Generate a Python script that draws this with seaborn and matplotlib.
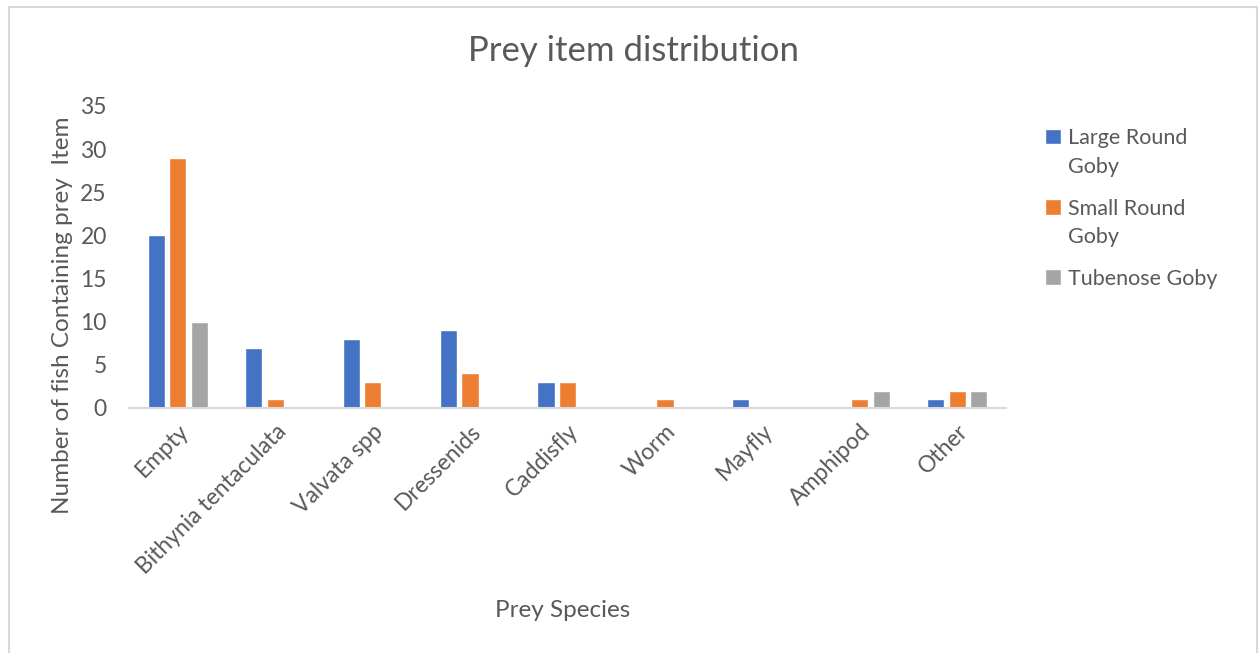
import textwrap
import matplotlib
matplotlib.use("Agg")
import matplotlib.pyplot as plt
from matplotlib.patches import Rectangle
import pandas as pd
import seaborn as sns

categories = ["Empty", "Bithynia tentaculata", "Valvata spp", "Dressenids",
              "Caddisfly", "Worm", "Mayfly", "Amphipod", "Other"]
large_round_goby = [20, 7, 8, 9, 3, 0, 1, 0, 1]
small_round_goby = [29, 1, 3, 4, 3, 1, 0, 1, 2]
tubenose_goby = [10, 0, 0, 0, 0, 0, 0, 2, 2]
series_names = ["Large Round Goby", "Small Round Goby", "Tubenose Goby"]
y_ticks = [0, 5, 10, 15, 20, 25, 30, 35]

colors = ["#4472C4", "#ED7D31", "#A5A5A5"]
text_color = "#595959"

df = pd.DataFrame({
    "Prey": categories * 3,
    "Fish": [n for n in series_names for _ in categories],
    "Count": large_round_goby + small_round_goby + tubenose_goby,
})

sns.set_theme(style="white")
plt.rcParams["font.family"] = ["Lato", "DejaVu Sans"]

fig = plt.figure(figsize=(12.59, 6.53), dpi=100)
ax = fig.add_axes([0.1025, 0.3752, 0.6965, 0.4625])

sns.barplot(data=df, x="Prey", y="Count", hue="Fish", order=categories,
            hue_order=series_names, palette=colors, width=0.66, gap=0.2,
            saturation=1, errorbar=None, ax=ax, legend=True)

ax.set_ylim(0, 35)
ax.set_yticks(y_ticks)
ax.set_xlim(-0.5, len(categories) - 0.5)
ax.tick_params(axis="both", length=0, colors=text_color, labelsize=16.5)
ax.tick_params(axis="y", pad=16)
plt.setp(ax.get_xticklabels(), rotation=45, ha="right", rotation_mode="anchor")
ax.tick_params(axis="x", pad=9)

for side in ["top", "right", "left"]:
    ax.spines[side].set_visible(False)
ax.spines["bottom"].set_color("#D9D9D9")
ax.spines["bottom"].set_linewidth(1.5)

ax.set_xlabel("Prey Species", fontsize=17.5, color=text_color)
ax.set_ylabel("Number of fish Containing prey  Item", fontsize=17.5,
              color=text_color)
ax.yaxis.set_label_coords(-0.064, 0.308)
ax.xaxis.set_label_coords(0.495, -0.635)

fig.text(0.503, 0.922, "Prey item distribution", ha="center", va="center",
         fontsize=25, color=text_color)

legend_fs = 15.5
line_sp = 1.55
handles, labels = ax.get_legend_handles_labels()
leg = ax.legend(handles, [textwrap.fill(l, 13) for l in labels],
                loc="upper left", bbox_to_anchor=(1.035, 0.955), frameon=False,
                fontsize=legend_fs, labelcolor=text_color, handlelength=0.75,
                handleheight=0.75, handletextpad=0.3, labelspacing=1.0,
                borderaxespad=0)
# keep the swatch level with the first line of a wrapped label
for txt, patch in zip(leg.get_texts(), leg.get_patches()):
    txt.set_linespacing(line_sp)
    n_lines = txt.get_text().count("\n") + 1
    if n_lines > 1:
        patch.set_y(patch.get_y() + 0.5 * line_sp * legend_fs * (n_lines - 1))

fig.patches.append(Rectangle((9 / 1259, -0.05), 1248 / 1259, 1.05 - 7 / 653,
                             transform=fig.transFigure, fill=False,
                             edgecolor="#D9D9D9", linewidth=1.5))

fig.savefig("out.png", dpi=100, facecolor="white")
